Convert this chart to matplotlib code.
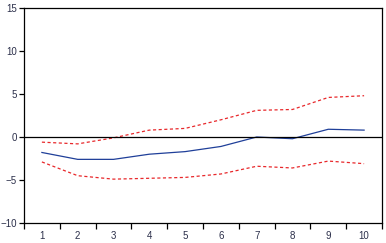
import matplotlib

matplotlib.use("Agg")
import matplotlib.pyplot as plt
import numpy as np

plt.rcParams["font.family"] = ["Liberation Sans", "DejaVu Sans"]

periods = [1, 2, 3, 4, 5, 6, 7, 8, 9, 10]
response = [-1.8, -2.6, -2.6, -2.0, -1.7, -1.1, 0.0, -0.2, 0.9, 0.8]
upper_band = [-0.6, -0.8, -0.1, 0.8, 1.0, 2.0, 3.1, 3.2, 4.6, 4.8]
lower_band = [-2.9, -4.5, -4.9, -4.8, -4.7, -4.3, -3.4, -3.6, -2.8, -3.1]
y_ticks = [-10, -5, 0, 5, 10, 15]

fig = plt.figure(figsize=(3.86, 2.43), dpi=100)
ax = fig.add_axes([24 / 386, 20 / 243, 358 / 386, 215 / 243])

x = np.array(periods)
ax.plot(x, response, color="#1f3f99", linewidth=0.9)
ax.plot(x, upper_band, color="#e8282b", linewidth=0.9, linestyle=(0, (2.5, 2)))
ax.plot(x, lower_band, color="#e8282b", linewidth=0.9, linestyle=(0, (2.5, 2)))
ax.axhline(0, color="black", linewidth=0.9)

ax.set_xlim(0.5, len(periods) + 0.5)
ax.set_ylim(-10, 15)
ax.set_yticks(y_ticks)
ax.set_xticks(np.arange(0.5, len(periods) + 1, 1.0))
ax.set_xticklabels([])
ax.set_xticks(x, minor=True)
ax.set_xticklabels([str(p) for p in periods], minor=True)
ax.tick_params(axis="x", which="minor", length=0, pad=6)
ax.tick_params(axis="x", which="major", length=4, width=0.9, direction="out")
ax.tick_params(axis="y", length=3.5, width=0.9, direction="out", pad=1.5)
ax.tick_params(axis="both", which="both", labelsize=7, labelcolor="#2b2f4a")

for spine in ax.spines.values():
    spine.set_linewidth(0.9)
    spine.set_color("black")

fig.savefig("out.png", dpi=100)
